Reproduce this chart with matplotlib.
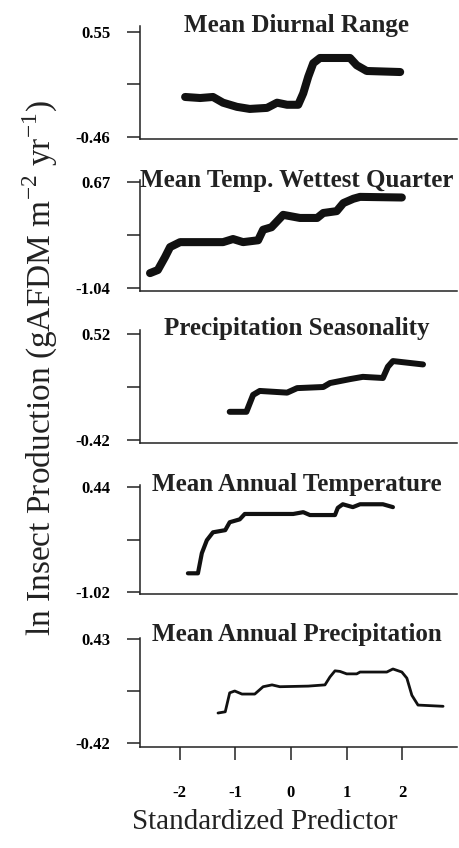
import numpy as np
import matplotlib.pyplot as plt

plt.rcParams['font.family'] = ['Liberation Serif', 'DejaVu Serif']

titles = ['Mean Diurnal Range', 'Mean Temp. Wettest Quarter',
          'Precipitation Seasonality', 'Mean Annual Temperature',
          'Mean Annual Precipitation']
ytop = [0.55, 0.67, 0.52, 0.44, 0.43]
ybot = [-0.46, -1.04, -0.42, -1.02, -0.42]
xticks = [-2, -1, 0, 1, 2]

# partial dependence curves, one per predictor
diurnal_x = [-1.90, -1.63, -1.40, -1.22, -0.97, -0.74, -0.43, -0.25, -0.07,
             0.13, 0.22, 0.31, 0.40, 0.52, 1.06, 1.18, 1.36, 1.96]
diurnal_y = [-0.075, -0.085, -0.075, -0.13, -0.17, -0.19, -0.18, -0.13, -0.15,
             -0.15, -0.04, 0.12, 0.25, 0.30, 0.30, 0.23, 0.175, 0.165]

wettest_x = [-2.53, -2.39, -2.26, -2.17, -1.99, -1.22, -1.04, -0.86, -0.59,
             -0.50, -0.35, -0.14, 0.16, 0.47, 0.58, 0.82, 0.94, 1.12, 1.24, 1.99]
wettest_y = [-0.80, -0.75, -0.54, -0.38, -0.30, -0.30, -0.25, -0.30, -0.27,
             -0.10, -0.06, 0.14, 0.09, 0.09, 0.17, 0.20, 0.33, 0.40, 0.43, 0.42]

season_x = [-1.10, -0.80, -0.68, -0.56, -0.07, 0.11, 0.58, 0.70, 1.06, 1.29,
            1.65, 1.74, 1.83, 2.01, 2.37]
season_y = [-0.17, -0.17, -0.02, 0.015, 0.0, 0.04, 0.05, 0.085, 0.12, 0.14,
            0.13, 0.23, 0.28, 0.27, 0.25]

temp_x = [-1.85, -1.67, -1.60, -1.51, -1.40, -1.18, -1.10, -0.92, -0.83, 0.04,
          0.22, 0.34, 0.79, 0.84, 0.93, 1.11, 1.24, 1.65, 1.83]
temp_y = [-0.76, -0.76, -0.48, -0.30, -0.19, -0.16, -0.05, -0.01, 0.065, 0.065,
          0.09, 0.05, 0.05, 0.15, 0.20, 0.16, 0.20, 0.20, 0.16]

precip_x = [-1.31, -1.18, -1.10, -1.01, -0.88, -0.65, -0.50, -0.34, -0.20, 0.31,
            0.61, 0.70, 0.79, 0.88, 1.00, 1.18, 1.24, 1.72, 1.83, 1.99, 2.08,
            2.17, 2.28, 2.73]
precip_y = [-0.175, -0.165, -0.01, 0.005, -0.02, -0.02, 0.04, 0.055, 0.04, 0.045,
            0.055, 0.12, 0.17, 0.165, 0.145, 0.145, 0.16, 0.16, 0.185, 0.16, 0.11,
            -0.03, -0.11, -0.12]

curves = [(diurnal_x, diurnal_y), (wettest_x, wettest_y), (season_x, season_y),
          (temp_x, temp_y), (precip_x, precip_y)]

# panel boxes in pixels: axes top, axes bottom, top tick, bottom tick, title
W, H = 460, 848
boxes = [(26, 139, 32, 137, 26), (180, 291, 182, 288, 180),
         (330, 443, 334, 440, 328), (485, 594, 487, 592, 485),
         (638, 747, 639, 743, 635)]
lws = [5.8, 5.8, 4.3, 3.0, 2.0]
left, right = 140, 457

fig = plt.figure(figsize=(W / 100, H / 100), dpi=100)

for i in range(5):
    top, bot, tt, bt, ty = boxes[i]
    ax = fig.add_axes([left / W, 1 - bot / H, (right - left) / W, (bot - top) / H])
    per_px = (ytop[i] - ybot[i]) / (bt - tt)
    ax.set_ylim(ybot[i] - (bot - bt) * per_px, ytop[i] + (tt - top) * per_px)
    ax.set_xlim(-2.71, 2.98)

    x, y = curves[i]
    ax.plot(x, y, color='#111111', lw=lws[i], solid_capstyle='round',
            solid_joinstyle='round')

    ax.set_yticks([ybot[i], (ybot[i] + ytop[i]) / 2, ytop[i]])
    ax.set_yticklabels([f'{ybot[i]:.2f}', '', f'{ytop[i]:.2f}'],
                       fontweight='bold', fontsize=12)
    ax.tick_params(axis='y', length=9.4, width=1.1, pad=12, color='#222222')

    for s in ['top', 'right']:
        ax.spines[s].set_visible(False)
    for s in ['left', 'bottom']:
        ax.spines[s].set_linewidth(1.1)
        ax.spines[s].set_color('#222222')

    if i == 4:
        ax.set_xticks(xticks)
        ax.set_xticklabels([str(v) for v in xticks], fontweight='bold', fontsize=12)
        ax.tick_params(axis='x', length=9.4, width=1.1, pad=18, color='#222222')
    else:
        ax.set_xticks([])

    ax.text(0.495, 1 - (ty - top) / (bot - top), titles[i],
            transform=ax.transAxes, ha='center', va='center',
            fontweight='bold', fontsize=18, color='#222222')

fig.text(265 / W, 1 - 822 / H, 'Standardized Predictor', ha='center', va='center',
         fontsize=21, color='#222222')
fig.text(40 / W, 1 - 368 / H,
         r'ln Insect Production (gAFDM m$^{\mathregular{-2}}$ yr$^{\mathregular{-1}}$)',
         ha='center', va='center', rotation=90, fontsize=24, color='#222222')

fig.savefig('out.png', dpi=100, facecolor='white')
